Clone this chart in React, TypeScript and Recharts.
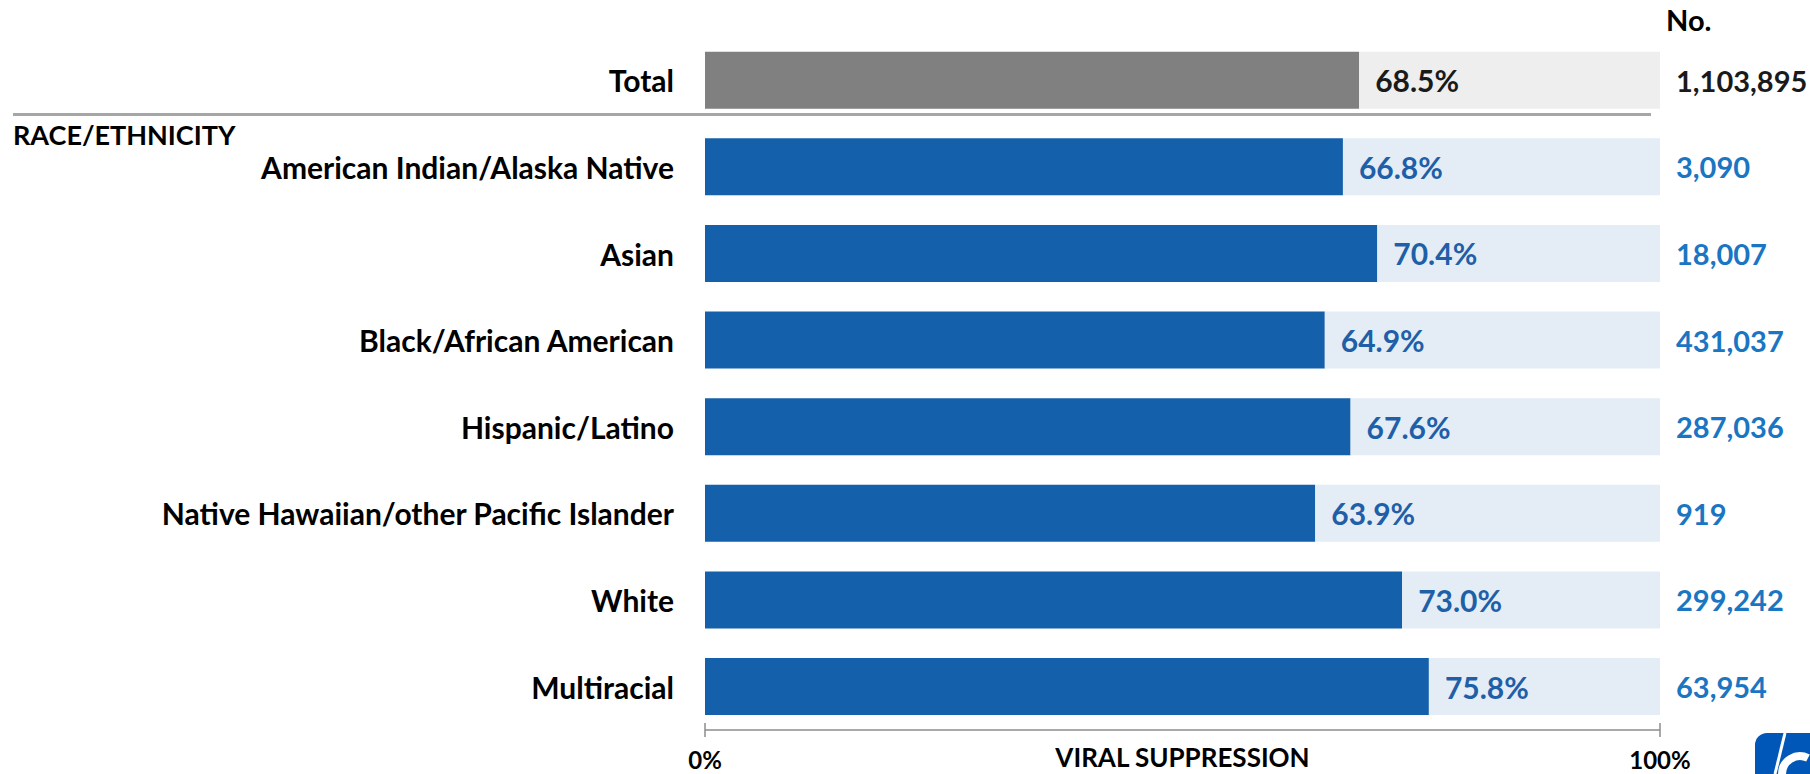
import React from 'react'
import { BarChart, Bar, XAxis, YAxis, Cell, LabelList, Label } from 'recharts'

const categories = [
  'Total',
  'American Indian/Alaska Native',
  'Asian',
  'Black/African American',
  'Hispanic/Latino',
  'Native Hawaiian/other Pacific Islander',
  'White',
  'Multiracial',
]

// viral suppression (%)
const suppression = [68.5, 66.8, 70.4, 64.9, 67.6, 63.9, 73.0, 75.8]

// number of people
const counts = ['1,103,895', '3,090', '18,007', '431,037', '287,036', '919', '299,242', '63,954']

const xTicks = [0, 100]

const FONT = "Lato, 'Open Sans', sans-serif"
const BLUE = '#1560AA'
const BLUE_TRACK = '#E4EDF6'
const GRAY = '#808080'
const GRAY_TRACK = '#EEEEEE'
const PCT_BLUE = '#1F5FA8'
const NUM_BLUE = '#1A76C2'

const data = categories.map((name, i) => ({
  name,
  value: suppression[i],
  rest: 100 - suppression[i],
  count: counts[i],
}))

function CategoryTick({ x, y, payload }: any) {
  return (
    <text
      x={x}
      y={y}
      textAnchor="end"
      dominantBaseline="central"
      fontFamily={FONT}
      fontWeight={700}
      fontSize={30}
      fill="#000"
    >
      {payload.value}
    </text>
  )
}

function XTick({ x, y, payload }: any) {
  return (
    <g>
      <line x1={x} x2={x} y1={y - 7} y2={y + 7} stroke="#8C8C8C" strokeWidth={1.5} />
      <text x={x} y={y + 39} textAnchor="middle" fontFamily={FONT} fontWeight={700} fontSize={24} fill="#000">
        {payload.value}%
      </text>
    </g>
  )
}

function PctLabel({ x, y, width, height, value, index }: any) {
  const isTotal = index === 0
  return (
    <text
      x={x + width + 16}
      y={y + height / 2}
      dominantBaseline="central"
      fontFamily={FONT}
      fontWeight={700}
      fontSize={30}
      fill={isTotal ? '#1a1a1a' : PCT_BLUE}
    >
      {Number(value).toFixed(1)}%
    </text>
  )
}

function CountLabel({ x, y, width, height, value, index }: any) {
  const isTotal = index === 0 || value === counts[0]
  return (
    <text
      x={x + width + 16}
      y={y + height / 2}
      dominantBaseline="central"
      fontFamily={FONT}
      fontWeight={700}
      fontSize={29}
      fill={isTotal ? '#1a1a1a' : NUM_BLUE}
    >
      {value}
    </text>
  )
}

export default function App() {
  return (
    <div style={{ position: 'absolute', left: 0, top: 0, width: 1810, height: 774, background: '#fff' }}>
      <BarChart
        width={1810}
        height={774}
        data={data}
        layout="vertical"
        margin={{ top: 37, right: 150, bottom: 0, left: 0 }}
        barCategoryGap="17%"
      >
        <XAxis
          type="number"
          domain={[0, 100]}
          ticks={xTicks}
          height={44}
          axisLine={{ stroke: '#8C8C8C', strokeWidth: 1.5 }}
          tickLine={false}
          tickSize={0}
          tickMargin={0}
          tick={<XTick />}
        >
          <Label
            value="VIRAL SUPPRESSION"
            position="insideBottom"
            offset={7}
            style={{ fontFamily: FONT, fontWeight: 700, fontSize: 26, fill: '#000' }}
          />
        </XAxis>
        <YAxis
          type="category"
          dataKey="name"
          width={705}
          axisLine={false}
          tickLine={false}
          tickSize={0}
          tickMargin={31}
          interval={0}
          tick={<CategoryTick />}
        />
        <Bar dataKey="value" stackId="a" isAnimationActive={false}>
          {data.map((d, i) => (
            <Cell key={`v-${i}`} fill={i === 0 ? GRAY : BLUE} />
          ))}
          <LabelList dataKey="value" content={<PctLabel />} />
        </Bar>
        <Bar dataKey="rest" stackId="a" isAnimationActive={false}>
          {data.map((d, i) => (
            <Cell key={`r-${i}`} fill={i === 0 ? GRAY_TRACK : BLUE_TRACK} />
          ))}
          <LabelList dataKey="count" content={<CountLabel />} />
        </Bar>
      </BarChart>

      {/* header, section title, separator and logo */}
      <svg
        width={1810}
        height={774}
        style={{ position: 'absolute', left: 0, top: 0, pointerEvents: 'none' }}
      >
        <text x={1666} y={31} fontFamily={FONT} fontWeight={700} fontSize={29} fill="#000">
          No.
        </text>
        <line x1={13} x2={1651} y1={114.5} y2={114.5} stroke="#A6A6A6" strokeWidth={3} />
        <text x={13} y={145} fontFamily={FONT} fontWeight={700} fontSize={27} fill="#000">
          RACE/ETHNICITY
        </text>
        <rect x={1755} y={733} width={80} height={80} rx={12} fill="#0057B8" />
        <line x1={1785} x2={1775} y1={733} y2={774} stroke="#fff" strokeWidth={3} />
        <path d="M 1808 758 A 18 18 0 0 0 1782 774" stroke="#fff" strokeWidth={8} fill="none" />
      </svg>
    </div>
  )
}
